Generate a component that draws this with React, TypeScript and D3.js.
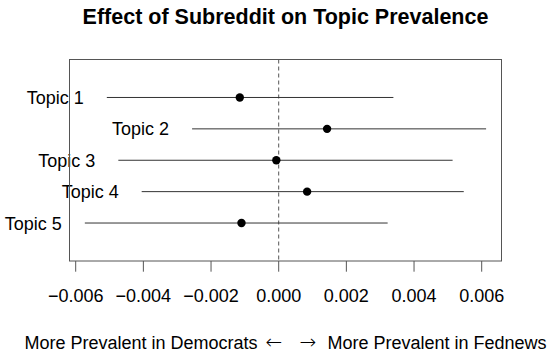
import { useEffect, useRef } from "react";
import * as d3 from "d3";

// Dados
const topicos = ["Topic 1", "Topic 2", "Topic 3", "Topic 4", "Topic 5"];
const estimativas = [-0.00115, 0.00143, -0.00007, 0.00084, -0.0011];
const inferiores = [-0.00508, -0.00256, -0.00474, -0.00405, -0.00573];
const superiores = [0.00339, 0.00613, 0.00514, 0.00547, 0.00322];
const ticksX = [-0.006, -0.004, -0.002, 0, 0.002, 0.004, 0.006];

const FONTE = "'Liberation Sans', Arial, sans-serif";

const App = () => {
  const svgRef = useRef<SVGSVGElement>(null);

  useEffect(() => {
    if (!svgRef.current) return;
    const width = 550;
    const height = 353;
    const svg = d3.select(svgRef.current);
    svg.selectAll("*").remove();

    const caixa = { left: 69.5, right: 501.5, top: 59.5, bottom: 261 };

    const x = d3.scaleLinear().domain([-0.006, 0.006]).range([75.7, 481.7]);
    const y = d3
      .scaleLinear()
      .domain([1 - 1.21, 5 + 1.21])
      .range([caixa.top, caixa.bottom]);

    svg.attr("width", width).attr("height", height);

    // Título
    svg
      .append("text")
      .attr("x", (caixa.left + caixa.right) / 2)
      .attr("y", 24)
      .attr("text-anchor", "middle")
      .style("font-family", FONTE)
      .style("font-size", "21.5px")
      .style("font-weight", "bold")
      .text("Effect of Subreddit on Topic Prevalence");

    // Linha tracejada no zero
    svg
      .append("line")
      .attr("x1", x(0))
      .attr("x2", x(0))
      .attr("y1", caixa.top)
      .attr("y2", caixa.bottom)
      .attr("stroke", "#555")
      .attr("stroke-dasharray", "4,3");

    // Intervalos
    topicos.forEach((t, i) => {
      const yy = y(i + 1);
      svg
        .append("line")
        .attr("x1", x(inferiores[i]))
        .attr("x2", x(superiores[i]))
        .attr("y1", yy)
        .attr("y2", yy)
        .attr("stroke", "#333")
        .attr("stroke-width", 1);

      svg
        .append("text")
        .attr("x", x(inferiores[i]) - 23)
        .attr("y", yy)
        .attr("dy", "0.36em")
        .attr("text-anchor", "end")
        .style("font-family", FONTE)
        .style("font-size", "18px")
        .text(t);

      svg
        .append("circle")
        .attr("cx", x(estimativas[i]))
        .attr("cy", yy)
        .attr("r", 4.2)
        .attr("fill", "#000");
    });

    // Caixa
    svg
      .append("rect")
      .attr("x", caixa.left)
      .attr("y", caixa.top)
      .attr("width", caixa.right - caixa.left)
      .attr("height", caixa.bottom - caixa.top)
      .attr("fill", "none")
      .attr("stroke", "#555");

    // Eixo X
    const eixo = svg.append("g");
    ticksX.forEach((v) => {
      eixo
        .append("line")
        .attr("x1", x(v))
        .attr("x2", x(v))
        .attr("y1", caixa.bottom)
        .attr("y2", caixa.bottom + 10.7)
        .attr("stroke", "#555");
      eixo
        .append("text")
        .attr("x", x(v))
        .attr("y", 301.5)
        .attr("text-anchor", "middle")
        .style("font-family", FONTE)
        .style("font-size", "18px")
        .text((v < 0 ? "\u2212" : "") + Math.abs(v).toFixed(3));
    });

    // Rótulo inferior
    const rotulo = svg
      .append("text")
      .attr("y", 348.5)
      .style("font-family", FONTE)
      .style("font-size", "18px");
    rotulo.append("tspan").attr("x", 24.5).text("More Prevalent in Democrats");
    rotulo
      .append("tspan")
      .attr("x", 265.5)
      .style("font-family", "'DejaVu Sans'")
      .style("font-size", "20px")
      .style("font-weight", "200")
      .text("\u2190");
    rotulo
      .append("tspan")
      .attr("x", 299.5)
      .style("font-family", "'DejaVu Sans'")
      .style("font-size", "20px")
      .style("font-weight", "200")
      .text("\u2192");
    rotulo.append("tspan").attr("x", 327.5).text("More Prevalent in Fednews");
  }, []);

  return (
    <svg
      ref={svgRef}
      style={{ position: "absolute", left: 0, top: 0, background: "#fff" }}
    />
  );
};

export default App;
